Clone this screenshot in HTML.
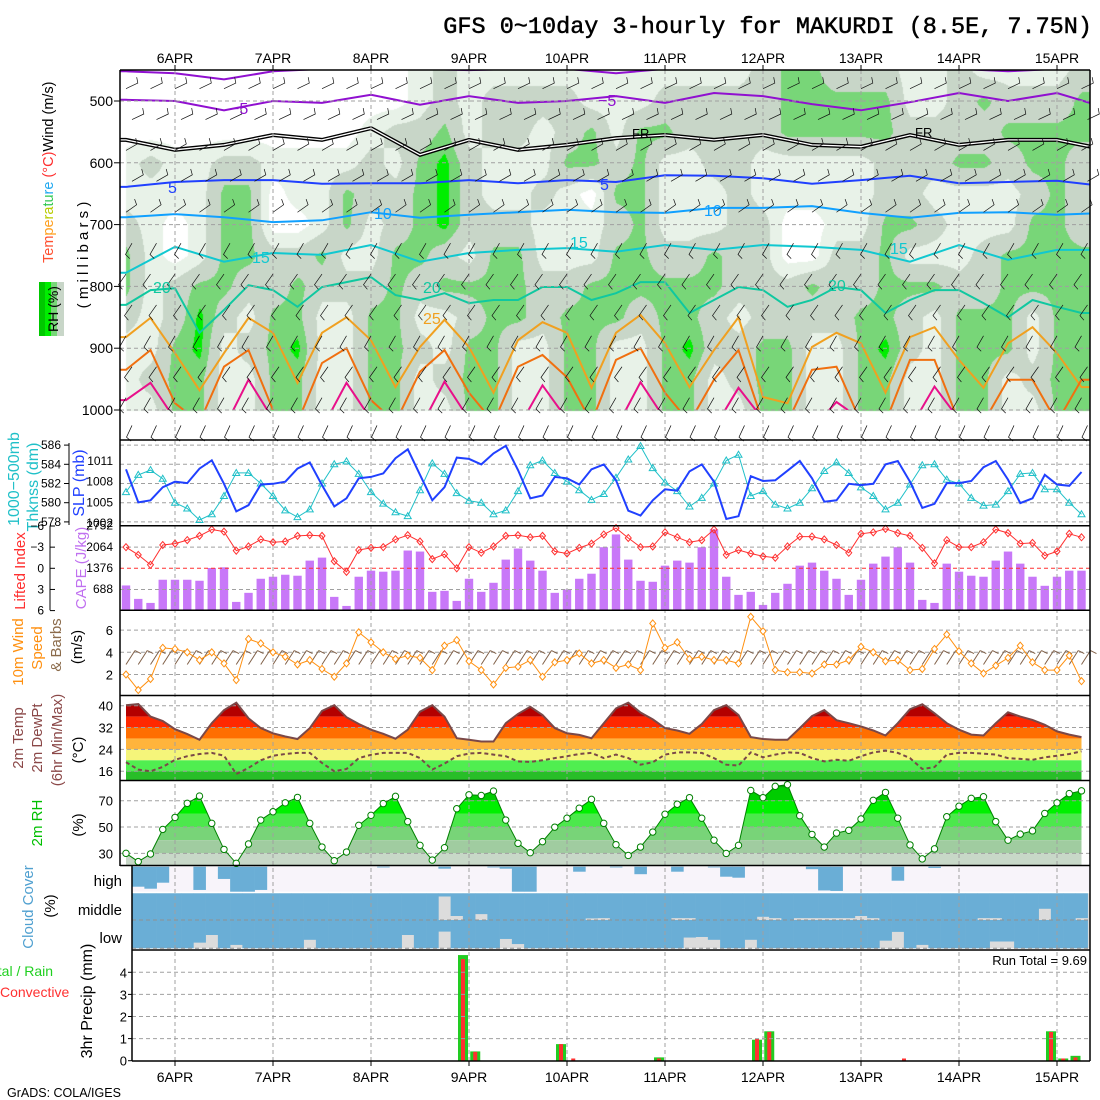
<!DOCTYPE html>
<html><head><meta charset="utf-8">
<style>
body{margin:0;background:#fff;width:1100px;height:1100px;overflow:hidden;position:relative;font-family:"Liberation Sans",sans-serif}
canvas,svg{position:absolute;left:0;top:0}
text{font-family:"Liberation Sans",sans-serif}
</style></head>
<body>
<canvas id="rhField" width="1100" height="1100"></canvas>
<svg id="chart" width="1100" height="1100" xmlns="http://www.w3.org/2000/svg">
<defs>
<clipPath id="topClip"><rect x="120" y="70" width="970" height="340"/></clipPath>
<clipPath id="tClip"><path id="tClipPath" d=""/></clipPath>
<clipPath id="rhClip"><path id="rhClipPath" d=""/></clipPath>
</defs>
<g id="layerFill"></g>
<g id="layerContour" clip-path="url(#topClip)"></g>
<g id="layerGrid"></g>
<g id="layerSeries"></g>
<g id="layerFrame"></g>
<g id="layerText">
<text x="1092" y="33" text-anchor="end" font-family="Liberation Mono" font-size="23.5" stroke="#000" stroke-width="0.5" style="font-family:'Liberation Mono',monospace">GFS 0~10day 3-hourly for MAKURDI (8.5E, 7.75N)</text>
<text transform="translate(53,263) rotate(-90)" font-size="14.5"><tspan fill="#ff5030">Tem</tspan><tspan fill="#ffa020">pe</tspan><tspan fill="#b8cc00">ra</tspan><tspan fill="#30c850">tu</tspan><tspan fill="#20a8f0">re</tspan><tspan fill="#ff3030"> (°C)</tspan><tspan fill="#000">Wind (m/s)</tspan></text>
<rect x="39" y="282" width="6" height="54" fill="#00c800"/>
<rect x="45" y="282" width="6" height="54" fill="#00ee00"/>
<rect x="51" y="282" width="6" height="54" fill="#78d678"/>
<rect x="57" y="282" width="7" height="54" fill="#c8d6c8"/>
<text transform="translate(58,309) rotate(-90)" text-anchor="middle" font-size="14">RH (%)</text>
<text transform="translate(88,255) rotate(-90)" text-anchor="middle" font-size="15">( m i l l i b a r s )</text>
<text transform="translate(19,479) rotate(-90)" text-anchor="middle" font-size="16" fill="#20c0c8">1000−500mb</text>
<text transform="translate(38,487) rotate(-90)" text-anchor="middle" font-size="16" fill="#20c0c8">Thknss (dm)</text>
<text transform="translate(84,483) rotate(-90)" text-anchor="middle" font-size="16" fill="#2040ff">SLP (mb)</text>
<text transform="translate(25,571) rotate(-90)" text-anchor="middle" font-size="15" fill="#ff3030">Lifted Index</text>
<text transform="translate(86,568) rotate(-90)" text-anchor="middle" font-size="15" fill="#c070f0">CAPE (J/kg)</text>
<text transform="translate(23,652) rotate(-90)" text-anchor="middle" font-size="15" fill="#ff9010">10m Wind</text>
<text transform="translate(42,648) rotate(-90)" text-anchor="middle" font-size="15" fill="#ff9010">Speed</text>
<text transform="translate(61,645) rotate(-90)" text-anchor="middle" font-size="15" fill="#8b6b4b">&amp; Barbs</text>
<text transform="translate(82,647) rotate(-90)" text-anchor="middle" font-size="15">(m/s)</text>
<text transform="translate(23,738) rotate(-90)" text-anchor="middle" font-size="15" fill="#8b4848">2m Temp</text>
<text transform="translate(42,738) rotate(-90)" text-anchor="middle" font-size="15" fill="#8b4848">2m DewPt</text>
<text transform="translate(62,740) rotate(-90)" text-anchor="middle" font-size="15" fill="#8b4848">(6hr Min/Max)</text>
<text transform="translate(83,750) rotate(-90)" text-anchor="middle" font-size="15">(°C)</text>
<text transform="translate(42,823) rotate(-90)" text-anchor="middle" font-size="15" fill="#00c000">2m RH</text>
<text transform="translate(83,825) rotate(-90)" text-anchor="middle" font-size="15">(%)</text>
<text transform="translate(33,907) rotate(-90)" text-anchor="middle" font-size="15" fill="#50a0d0">Cloud Cover</text>
<text transform="translate(55,906) rotate(-90)" text-anchor="middle" font-size="15">(%)</text>
<text x="122" y="886" text-anchor="end" font-size="15">high</text>
<text x="122" y="915" text-anchor="end" font-size="15">middle</text>
<text x="122" y="943" text-anchor="end" font-size="15">low</text>
<text x="-17" y="976" font-size="14" fill="#20d020">Total / Rain</text>
<text x="0" y="997" font-size="14" fill="#ff3030">Convective</text>
<text transform="translate(92,1001) rotate(-90)" text-anchor="middle" font-size="16">3hr Precip (mm)</text>
<text x="1087" y="965" text-anchor="end" font-size="13">Run Total = 9.69</text>
<text x="7" y="1097" font-size="12.5">GrADS: COLA/IGES</text>
<text x="230" y="114" font-size="16" fill="#9010d0">−5</text>
<text x="598" y="106" font-size="16" fill="#9010d0">−5</text>
<text x="632" y="138" font-size="13">FR</text>
<text x="915" y="137" font-size="13">FR</text>
<text x="168" y="193" font-size="16" fill="#2040ff">5</text>
<text x="600" y="190" font-size="16" fill="#2040ff">5</text>
<text x="374" y="219" font-size="16" fill="#10a0ff">10</text>
<text x="704" y="216" font-size="16" fill="#10a0ff">10</text>
<text x="252" y="263" font-size="16" fill="#10c8d0">15</text>
<text x="570" y="248" font-size="16" fill="#10c8d0">15</text>
<text x="890" y="254" font-size="16" fill="#10c8d0">15</text>
<text x="153" y="293" font-size="16" fill="#10c8a0">20</text>
<text x="423" y="293" font-size="16" fill="#10c8a0">20</text>
<text x="828" y="291" font-size="16" fill="#10c8a0">20</text>
<text x="423" y="324" font-size="16" fill="#f0a020">25</text>
</g>
</svg>
<script>
// ---------- data ----------
const dayLabels = ['6APR','7APR','8APR','9APR','10APR','11APR','12APR','13APR','14APR','15APR'];
const dayIdx = [4,12,20,28,36,44,52,60,68,76];
const slp = [1009.8,1005.0,1005.3,1007.2,1008.0,1007.8,1009.9,1011.1,1007.7,1003.7,1004.6,1007.6,1007.7,1008.0,1009.9,1010.8,1007.5,1004.4,1005.6,1008.5,1008.7,1009.2,1011.4,1012.7,1009.0,1005.3,1007.2,1011.5,1011.3,1010.5,1012.1,1013.2,1009.7,1005.6,1006.0,1008.7,1008.5,1007.6,1009.8,
1010.5,1008.2,1003.8,1003.1,1005.3,1006.9,1006.7,1009.5,1010.5,1008.0,1002.6,1003.0,1008.8,1008.1,1008.2,1009.6,1011.0,1008.5,1005.1,1005.3,1007.7,1007.5,1007.7,1010.5,1011.0,1008.0,1004.2,1004.8,1007.8,1007.8,1008.1,1010.1,1011.0,1008.3,1004.9,1005.6,1009.0,1007.6,1007.4,1009.4];
const thk = [581.1,582.9,583.4,582.5,580.0,579.4,578.2,578.8,580.7,583.1,583.1,582.0,580.7,579.2,578.5,579.3,582.0,584.0,584.3,583.0,581.1,579.9,579.0,578.6,581.3,584.1,583.0,581.0,580.2,580.0,578.8,579.2,581.2,583.9,584.4,583.1,582.2,581.3,580.3,
580.9,582.6,584.5,585.9,583.6,582.1,581.2,579.6,580.5,582.0,584.4,585.0,580.7,581.2,579.8,579.4,580.0,581.5,583.3,584.2,583.1,581.6,580.7,579.3,580.0,581.9,583.9,584.0,582.4,582.0,580.5,579.7,579.8,581.2,583.0,583.1,581.4,581.4,580.0,578.8];
const li = [-3.0,-1.9,-0.5,-3.3,-3.5,-4.0,-4.6,-5.5,-5.2,-2.5,-3.1,-4.1,-3.7,-3.8,-4.6,-4.7,-4.6,-1.0,0.5,-2.6,-2.9,-3.0,-4.1,-4.7,-3.8,-1.3,-2.0,0,-3.0,-2.2,-3.1,-4.6,-4.7,-4.4,-4.6,-2.4,-2.1,-2.9,-3.5,
-4.8,-5.7,-4.3,-3.0,-3.1,-5.1,-4.4,-3.7,-4.0,-5.5,-1.9,-2.6,-2.1,-1.7,-1.5,-3.1,-4.5,-4.5,-4.1,-3.3,-2.2,-4.9,-5.1,-5.6,-5.0,-4.6,-2.9,-0.7,-4.0,-3.0,-3.0,-3.7,-5.5,-5.0,-3.5,-3.6,-1.8,-2.4,-4.9,-4.4];
const cape = [808,371,240,994,994,994,961,1376,1398,273,568,1026,1092,1157,1125,1616,1714,437,142,1092,1289,1256,1289,1944,1911,601,633,306,1026,601,895,1649,2010,1616,1289,568,677,1026,1190,
2053,2468,1649,961,928,1452,1616,1551,2053,2632,1092,502,601,175,568,863,1452,1551,1289,1026,502,994,1518,1747,2053,1551,339,240,1518,1256,1125,1092,1616,1911,1518,1092,797,1092,1289,1289];
const wspd = [2.0,0.6,1.6,4.4,4.3,4.0,3.3,4.0,3.0,1.5,5.2,4.8,4.0,3.6,2.9,3.3,2.5,1.8,3.0,5.8,4.9,4.0,3.4,3.7,3.5,2.4,4.6,5.1,3.2,2.4,1.1,2.6,2.7,3.3,1.8,3.1,3.3,3.9,3.0,
3.3,2.6,2.9,2.4,6.6,4.4,4.9,3.4,3.6,3.3,3.3,3.0,7.2,5.9,2.4,2.2,2.2,2.1,2.9,2.9,3.3,4.5,4.0,3.2,3.3,2.4,2.5,4.3,5.6,4.1,3.0,2.1,2.8,3.5,4.6,3.1,2.4,2.4,3.7,1.4];
const t2m = [40.2,40.6,36.0,34.4,31.4,29.6,27.5,33.6,38.4,41.1,35.4,31.8,29.9,28.7,27.8,31.8,38.1,40.2,35.8,33.3,31.2,29.7,27.9,31.2,37.8,40.2,36.0,28.1,27.5,26.9,26.9,33.6,37.0,39.6,36.6,31.8,29.9,29.3,28.1,
33.6,39.0,41.1,37.5,35.0,31.8,30.9,29.7,33.3,38.4,40.2,36.6,28.5,27.8,27.5,27.5,31.8,36.2,38.4,34.7,33.6,32.4,30.9,29.1,33.6,38.7,40.5,37.2,33.6,31.2,29.4,29.1,33.6,37.6,36.0,34.8,33.0,30.6,29.4,28.5];
const td2m = [19.3,16.6,16.0,17.6,20.2,21.5,22.3,22.7,21.7,15.0,17.2,20.0,21.7,22.3,22.7,22.7,19.0,16.0,16.8,20.8,22.0,22.7,22.7,22.7,20.8,16.6,18.8,21.5,22.5,22.7,22.1,21.5,19.6,19.4,20.0,20.8,21.5,22.3,22.7,
20.8,22.1,20.8,18.4,19.3,22.1,22.9,22.9,22.7,20.8,18.4,18.1,22.9,21.1,22.1,22.9,22.7,20.8,19.6,20.2,19.8,21.5,22.9,23.5,22.7,20.8,16.8,17.5,22.1,22.7,22.7,22.4,22.1,20.8,20.5,20.2,21.1,21.7,22.3,23.3];
const rh2m = [30.0,23.7,29.5,48.2,57.3,68.0,73.5,52.8,33.0,22.4,37.1,55.3,61.6,68.4,72.5,52.8,34.8,24.4,31.0,51.3,58.9,67.8,73.3,54.1,36.1,24.9,34.3,63.9,74.5,74.0,77.3,55.3,37.6,30.5,38.9,49.9,56.7,64.3,71.0,
52.8,36.6,28.4,34.8,46.2,59.7,67.3,72.3,56.7,40.0,29.9,36.1,77.8,72.3,80.9,82.2,58.6,44.4,34.8,45.4,47.5,56.1,70.3,76.3,56.7,36.4,25.8,33.4,57.8,65.8,71.8,73.0,54.1,40.0,44.6,47.1,60.3,68.4,75.4,77.5];
const cldHigh = [.8,.8,.88,.64,0,0,.93,0,.49,1, 1,.93,0,0,0,0,0,0,0,0, 0,.03,0,0,0,0,.08,0,0,0, .03,.08,1,1,0,0,0,.2,0,0, .03,0,.3,0,0,.2,0,0,.03,.4, .44,0,0,0,0,0,.1,.95,.97,0, 0,0,0,.56,0,0,.05,0,0,0, 0,0,0,0,0,0,0,0,0];
const cldMid = [1,1,1,1,1,1,1,1,1,1, 1,1,1,1,1,1,1,1,1,1, 1,1,1,1,1,1,.12,.85,1,.78, 1,1,1,1,1,1,1,1,.94,.93, 1,1,1,1,1,.93,.93,1,1,1, 1,1,.88,.93,1,.93,.93,.93,.93,.93, .85,.93,1,1,1,1,1,1,1,1, .93,.93,1,1,1,.58,1,1,.93];
const cldLow = [1,1,1,1,1,1,.8,.53,1,.88, 1,1,1,1,1,.7,1,1,1,1, 1,1,1,.53,1,1,.41,1,1,1, 1,.67,.85,1,1,1,1,1,1,1, 1,1,1,1,1,1,.62,.6,.7,1, 1,.7,1,1,1,1,1,1,1,1, 1,1,.73,.42,1,.88,1,1,1,1, 1,.76,.76,1,1,1,1,1,1];
const precipTotal = [0,0,0,0,0,0,0,0,0,0, 0,0,0,0,0,0,0,0,0,0, 0,0,0,0,0,0,0,0,4.78,0.42, 0,0,0,0,0,0,0.75,0,0,0, 0,0,0,0,0.15,0,0,0,0,0, 0,0,0.95,1.33,0,0,0,0,0,0, 0,0,0,0,0,0,0,0,0,0, 0,0,0,0,0,0,1.33,0.1,0.22];
const precipConv = [0,0,0,0,0,0,0,0,0,0, 0,0,0,0,0,0,0,0,0,0, 0,0,0,0,0,0,0,0,4.6,0.4, 0,0,0,0,0,0,0.75,0.1,0,0, 0,0,0,0,0.1,0,0,0,0,0, 0,0,1.0,1.3,0,0,0,0,0,0, 0,0,0,0,0.1,0,0,0,0,0, 0,0,0,0,0,0,1.3,0.1,0.15];
const rhLevels = [1000,950,900,850,800,750,700,650,600,550,500,450];
const rhRows = [
"1133113311331133113311331133113311331133",
"1233113311331233113311331233113311331233",
"1134123411332133113311342233113421333133",
"2124213311331123323332332122223321333133",
"3123322322232333322333333222322333223333",
"3101332231133213311133223220022311123333",
"2101330013123422211123111220011332111332",
"1111330113223421121033111211111221111232",
"1211221111213421113323112211111222332332",
"0000000000122312212313322223333322223333",
"0000000000001212222111222223333311232223",
"0000000000001211111111111123322211211112"];
const isoM10 = [452,455,465,452,448,448,448,450,448,448,455,448,448,448,448,448,448,448,452,448,448];
const isoM5 = [498,500,515,500,503,490,506,492,503,500,492,503,487,492,505,515,502,487,500,487,511];
const isoFR = [563,579,571,555,563,544,587,563,579,571,560,555,563,555,571,574,555,571,563,563,579];
const iso5 = [639,631,628,628,634,633,633,628,633,628,631,620,621,625,634,628,621,633,631,629,638];
const iso10 = [688,683,688,696,693,680,689,684,680,676,680,681,673,673,670,681,689,681,680,684,681];
const iso15 = [778,736,760,746,749,733,760,746,741,738,744,733,741,733,736,741,760,733,757,741,741];
const iso20 = [830,806,803,875,838,798,806,833,801,793,785,814,822,811,827,822,822,801,801,822,811,793,793,843,822,801,806,833,822,801,806,843,822,806,806,827,850,822,833,843];
const iso25 = [882,851,908,968,908,851,875,956,875,850,887,963,898,854,898,972,887,858,875,964,875,846,892,963,903,850,979,989,898,875,892,972,882,866,919,964,892,866,908,963];
const iso30 = [935,903,989,1020,930,903,1000,1020,924,900,984,1020,938,903,972,1020,930,911,947,1020,919,900,972,1020,951,903,1020,1020,935,930,1020,1020,919,919,1020,1020,951,951,1020,951];
const iso35 = [984,956,1015,1030,1030,951,1015,1030,1030,956,1015,1030,1030,954,1015,1030,1030,960,1015,1030,1030,955,1015,1030,1030,964,1015,1030,1030,987,1015,1030,1030,962,1015,1030,1030,1030,1030,1030];
const barbLevels = [480,530,580,630,680,730,780,830,880,930,980,1025];
const barbAngles = [-25,-25,-30,-30,-35,120,125,125,120,125,120,115];
const pressTicks = [500,600,700,800,900,1000];
const thkTicks = [586,584,582,580,578];
const slpTicks = [1011,1008,1005,1002];
const liTicks = [-6,-3,0,3,6];
const capeTicks = [2752,2064,1376,688];
const wsTicks = [2,4,6];
const tTicks = [40,32,24,16];
const rhTicks = [30,50,70];
const prTicks = [0,1,2,3,4];

const X = i => 126 + 12.25 * i;
const pY = p => 101 + (p - 500) * 0.618;
const thY = v => 464.3 + (584 - v) * 9.6;
const slpY = v => 461 + (1011 - v) * 6.9;
const liY = v => 568.3 + v * 7.05;
const capeY = v => 610.3 - v * (84.6 / 2752);
const wsY = v => 696.7 - v * 11.1;
const tY = v => 705.7 + (40 - v) * 2.73;
const rhY = v => 800.7 + (70 - v) * 1.316;
const prY = v => 1060.7 - v * 22.1;

const NS = 'http://www.w3.org/2000/svg';
function mk(tag, attrs, parent) {
  const e = document.createElementNS(NS, tag);
  for (const k in attrs) e.setAttribute(k, attrs[k]);
  parent.appendChild(e);
  return e;
}
const gFill = document.getElementById('layerFill');
const gCont = document.getElementById('layerContour');
const gGrid = document.getElementById('layerGrid');
const gSer = document.getElementById('layerSeries');
const gFrame = document.getElementById('layerFrame');
const gText = document.getElementById('layerText');
const pathOf = (xs, ys) => xs.map((x, j) => (j ? 'L' : 'M') + x.toFixed(1) + ' ' + ys[j].toFixed(1)).join('');

(function () {
  const ctx = document.getElementById('rhField').getContext('2d');
  const catVal = [20, 40, 60, 80, 95];
  const grid = rhRows.map(s => s.split('').map(c => catVal[+c]));
  const x0 = 126, x1 = 1089, y0 = 70, y1 = 410;
  const w = x1 - x0 + 1, h = y1 - y0 + 1;
  const img = ctx.createImageData(w, h);
  for (let yy = 0; yy < h; yy++) {
    const p = 500 + (y0 + yy - 101) / 0.618;
    let lf = Math.min(11, Math.max(0, (1000 - p) / 50));
    const l0 = Math.floor(lf), l1 = Math.min(11, l0 + 1), fl = lf - l0;
    for (let xx = 0; xx < w; xx++) {
      let kf = Math.min(39, Math.max(0, (x0 + xx - 126) / 24.5));
      const k0 = Math.floor(kf), k1 = Math.min(39, k0 + 1), fk = kf - k0;
      const v = (grid[l0][k0] * (1 - fk) + grid[l0][k1] * fk) * (1 - fl) + (grid[l1][k0] * (1 - fk) + grid[l1][k1] * fk) * fl;
      let c;
      if (v < 30) c = [255, 255, 255];
      else if (v < 50) c = [232, 242, 232];
      else if (v < 74) c = [200, 214, 200];
      else if (v < 90) c = [120, 214, 120];
      else c = [0, 238, 0];
      const o = (yy * w + xx) * 4;
      img.data[o] = c[0]; img.data[o + 1] = c[1]; img.data[o + 2] = c[2]; img.data[o + 3] = 255;
    }
  }
  ctx.putImageData(img, x0, y0);
})();

function isoLine(arr, step, color, width, name) {
  const xs = [120], ys = [pY(arr[0])];
  arr.forEach((p, c) => { xs.push(126 + step * c); ys.push(pY(p)); });
  xs.push(1100); ys.push(pY(arr[arr.length - 1]));
  const e = mk('path', { d: pathOf(xs, ys), fill: 'none', stroke: color, 'stroke-width': width }, gCont);
  
  
  return e;
}
isoLine(isoM10, 49, '#9010d0', 2, 'isotherm-minus10');
isoLine(isoM5, 49, '#9010d0', 2, 'isotherm-minus5');
isoLine(isoFR, 49, '#000', 4, 'isotherm-freezing');
isoLine(isoFR, 49, '#fff', 1.3, 'isotherm-freezing-inner');
isoLine(iso5, 49, '#2040ff', 2, 'isotherm-5');
isoLine(iso10, 49, '#10a0ff', 2, 'isotherm-10');
isoLine(iso15, 49, '#10c8d0', 2, 'isotherm-15');
isoLine(iso20, 24.5, '#10c8a0', 2, 'isotherm-20');
isoLine(iso25, 24.5, '#f0a020', 2, 'isotherm-25');
isoLine(iso30, 24.5, '#f07010', 2, 'isotherm-30');
isoLine(iso35, 24.5, '#e8108a', 2, 'isotherm-35');

barbLevels.forEach((lv, li2) => {
  for (let k = 0; k < 40; k++) {
    const x = X(2 * k) + (li2 % 2 ? 6 : 0), y = pY(lv);
    const a = barbAngles[li2] * Math.PI / 180;
    const ex = x + 13 * Math.cos(a), ey = y + 13 * Math.sin(a);
    const a2 = a - Math.PI / 2.4;
    const tx = ex + 6 * Math.cos(a2), ty = ey + 6 * Math.sin(a2);
    const b = mk('path', { d: `M${x} ${y}L${ex.toFixed(1)} ${ey.toFixed(1)}L${tx.toFixed(1)} ${ty.toFixed(1)}`, fill: 'none', stroke: '#111', 'stroke-width': 0.7 }, gSer);
    
    
  }
});

(function () {
  const xs = t2m.map((v, i) => X(i)), ys = t2m.map(v => tY(v));
  document.getElementById('tClipPath').setAttribute('d', pathOf(xs, ys) + `L${X(78)} 780L${X(0)} 780Z`);
  const bands = [[36, 50, '#b40000'], [32, 36, '#ff2800'], [28, 32, '#ff6e00'], [24, 28, '#ffb43c'], [20, 24, '#f5f57a'], [16, 20, '#50ee50'], [0, 16, '#28be28']];
  const g = mk('g', { 'clip-path': 'url(#tClip)' }, gFill);
  bands.forEach(b => {
    const y1 = Math.max(695.5, tY(b[1])), y2 = Math.min(780, tY(b[0]));
    const r = mk('rect', { x: 120, y: y1, width: 970, height: Math.max(0, y2 - y1), fill: b[2] }, g);
    
    
  });
  const ys2 = rh2m.map(v => rhY(v));
  document.getElementById('rhClipPath').setAttribute('d', pathOf(xs, ys2) + `L${X(78)} 865L${X(0)} 865Z`);
  const rb = [[80, 120, '#00a800'], [70, 80, '#00cc00'], [60, 70, '#00f000'], [50, 60, '#4ce84c'], [40, 50, '#78d478'], [30, 40, '#a0cca0'], [0, 30, '#c8d8c8']];
  const g2 = mk('g', { 'clip-path': 'url(#rhClip)' }, gFill);
  rb.forEach(b => {
    const y1 = Math.max(780.5, rhY(b[1])), y2 = Math.min(865, rhY(b[0]));
    const r = mk('rect', { x: 120, y: y1, width: 970, height: Math.max(0, y2 - y1), fill: b[2] }, g2);
    
    
  });
})();

(function () {
  const bands = [[866.7, 891.7, cldHigh, '#f8f4fa', 'cloud-high-bar'], [893.3, 920, cldMid, '#dcdcdc', 'cloud-mid-bar'], [920, 948.3, cldLow, '#dcdcdc', 'cloud-low-bar']];
  bands.forEach(b => {
    const bg = mk('rect', { x: 132, y: b[0], width: 958, height: b[1] - b[0], fill: b[3] }, gFill);
    
    
    b[2].forEach((v, i) => {
      const xa = Math.max(132, X(i) - 6.125), xb = Math.min(1090, X(i) + 6.125);
      if (xb <= xa || v <= 0) return;
      const r = mk('rect', { x: xa, y: b[0], width: xb - xa + 0.3, height: v * (b[1] - b[0]), fill: '#6aaed6' }, gFill);
      
      
    });
  });
})();

cape.forEach((v, i) => {
  const r = mk('rect', { x: X(i) - 4.2, y: capeY(v), width: 8.4, height: 610.3 - capeY(v), fill: '#c878f8' }, gFill);
  
  
});

precipTotal.forEach((v, i) => {
  const cx = X(i) - 6;
  if (v > 0) {
    const r = mk('rect', { x: cx - 5, y: prY(v), width: 10, height: 1060.7 - prY(v), fill: '#22cc22' }, gFill);
    
    
  }
  const c = precipConv[i];
  if (c > 0) {
    const r2 = mk('rect', { x: cx - 2, y: prY(c), width: 4, height: 1060.7 - prY(c), fill: '#ff3030' }, gFill);
    
    
  }
});

function hGrid(y, x0, color, name) {
  const l = mk('line', { x1: x0, x2: 1090, y1: y, y2: y, stroke: color || '#a0a0a0', 'stroke-width': 1, 'stroke-dasharray': '4,3' }, gGrid);
  
  
}
dayIdx.forEach(i => {
  const l = mk('line', { x1: X(i), x2: X(i), y1: 70, y2: 1061, stroke: '#a0a0a0', 'stroke-width': 1, 'stroke-dasharray': '4,3' }, gGrid);
  
  
});
pressTicks.forEach(p => hGrid(pY(p), 120, '#a0a0a0', 'pressure-gridline'));
thkTicks.forEach(v => hGrid(thY(v), 120, '#a0a0a0', 'thickness-gridline'));
[-3, 3].forEach(v => hGrid(liY(v), 120, '#a0a0a0', 'li-gridline'));
hGrid(liY(0), 120, '#ff3030', 'li-zero-line');
wsTicks.forEach(v => hGrid(wsY(v), 120, '#a0a0a0', 'wind-gridline'));
tTicks.forEach(v => hGrid(tY(v), 120, '#a0a0a0', 'temp-gridline'));
rhTicks.forEach(v => hGrid(rhY(v), 120, '#a0a0a0', 'rh-gridline'));
[920, 948.3].forEach(v => hGrid(v, 132, '#909090', 'cloud-gridline'));
prTicks.slice(1).forEach(v => hGrid(prY(v), 132, '#a0a0a0', 'precip-gridline'));

function series(arr, sc, color, w, name, dash) {
  const a = { d: pathOf(arr.map((v, i) => X(i)), arr.map(sc)), fill: 'none', stroke: color, 'stroke-width': w };
  if (dash) a['stroke-dasharray'] = dash;
  const e = mk('path', a, gSer);
  
  
}
series(thk, thY, '#20c0c8', 1, 'thickness-line');
thk.forEach((v, i) => {
  const x = X(i), y = thY(v);
  const m = mk('path', { d: `M${x} ${y - 3.5}L${x + 3.5} ${y + 2.5}L${x - 3.5} ${y + 2.5}Z`, fill: 'none', stroke: '#20c0c8', 'stroke-width': 1 }, gSer);
  
  
});
series(slp, slpY, '#2040ff', 2, 'slp-line');
series(li, liY, '#ff3030', 1, 'li-line');
li.forEach((v, i) => {
  const x = X(i), y = liY(v);
  const m = mk('path', { d: `M${x} ${y - 3.5}L${x + 3} ${y}L${x} ${y + 3.5}L${x - 3} ${y}Z`, fill: 'none', stroke: '#ff3030', 'stroke-width': 1 }, gSer);
  
  
});
wspd.forEach((v, i) => {
  const x = X(i), y = wsY(2.9);
  const b = mk('path', { d: `M${x} ${y}L${x + 9} ${y - 14}M${x + 9} ${y - 14}L${x + 15} ${y - 11}`, fill: 'none', stroke: '#806048', 'stroke-width': 1 }, gSer);
  
  
});
series(wspd, wsY, '#ff9010', 1, 'wind-speed-line');
wspd.forEach((v, i) => {
  const x = X(i), y = wsY(v);
  const m = mk('path', { d: `M${x} ${y - 3.5}L${x + 3} ${y}L${x} ${y + 3.5}L${x - 3} ${y}Z`, fill: '#fff', stroke: '#ff9010', 'stroke-width': 1 }, gSer);
  
  
});
series(t2m, tY, '#7a4848', 2, 'temperature-line');
series(td2m, tY, '#7a4848', 2, 'dewpoint-line', '4,3');
series(rh2m, rhY, '#008000', 1, 'rh-line');
rh2m.forEach((v, i) => {
  const c = mk('circle', { cx: X(i), cy: rhY(v), r: 3.2, fill: '#fff', stroke: '#008000', 'stroke-width': 1 }, gSer);
  
  
});

function fl(x1, y1, x2, y2, name, w) {
  const l = mk('line', { x1, y1, x2, y2, stroke: '#000', 'stroke-width': w || 1.5 }, gFrame);
  
  
}
fl(120, 70, 1090, 70, 'frame-top');
[440, 525.7, 610.3, 695.5, 780.5, 950, 1061].forEach(y => fl(y > 900 ? 132 : 120, y, 1090, y, 'panel-divider'));
fl(120, 865.5, 1090, 865.5, 'cloud-top-divider', 1.5);
fl(120, 70, 120, 866, 'frame-left');
fl(132, 866, 132, 1061, 'frame-left-lower');
fl(1090, 70, 1090, 1061, 'frame-right');
fl(69, 443, 69, 525, 'thickness-axis-line', 1);
fl(50, 525.7, 50, 610.3, 'li-axis-line', 1);

function tl(x, y, s, anchor, name, size, color) {
  const t = mk('text', { x, y, 'text-anchor': anchor, 'font-size': size || 13, fill: color || '#000' }, gText);
  t.textContent = s;
  
  
}
dayLabels.forEach((s, j) => { tl(X(dayIdx[j]), 63, s, 'middle', 'top-date-label', 14); tl(X(dayIdx[j]), 1082, s, 'middle', 'bottom-date-label', 14); });
dayIdx.forEach(i => { fl(X(i), 65, X(i), 70, 'top-date-tick', 1); fl(X(i), 1061, X(i), 1066, 'bottom-date-tick', 1); });
pressTicks.forEach(p => { tl(113, pY(p) + 5, String(p), 'end', 'pressure-tick-label', 14); fl(114, pY(p), 120, pY(p), 'pressure-tick', 1); });
thkTicks.forEach(v => { tl(61, thY(v) + 4, String(v), 'end', 'thickness-tick-label', 12); fl(64, thY(v), 69, thY(v), 'thickness-tick', 1); });
slpTicks.forEach(v => tl(113, slpY(v) + 4, String(v), 'end', 'slp-tick-label', 12));
liTicks.forEach(v => { tl(44, liY(v) + 4, v < 0 ? '−' + (-v) : String(v), 'end', 'li-tick-label', 12); fl(50, liY(v), 55, liY(v), 'li-tick', 1); });
capeTicks.forEach(v => tl(113, capeY(v) + 4, String(v), 'end', 'cape-tick-label', 12));
wsTicks.forEach(v => tl(113, wsY(v) + 5, String(v), 'end', 'wind-tick-label', 13));
tTicks.forEach(v => tl(113, tY(v) + 5, String(v), 'end', 'temp-tick-label', 13));
rhTicks.forEach(v => tl(113, rhY(v) + 5, String(v), 'end', 'rh-tick-label', 13));
prTicks.forEach(v => { tl(127, prY(v) + 5, String(v), 'end', 'precip-tick-label', 13); fl(128, prY(v), 132, prY(v), 'precip-tick', 1); });
</script>
</body></html>
